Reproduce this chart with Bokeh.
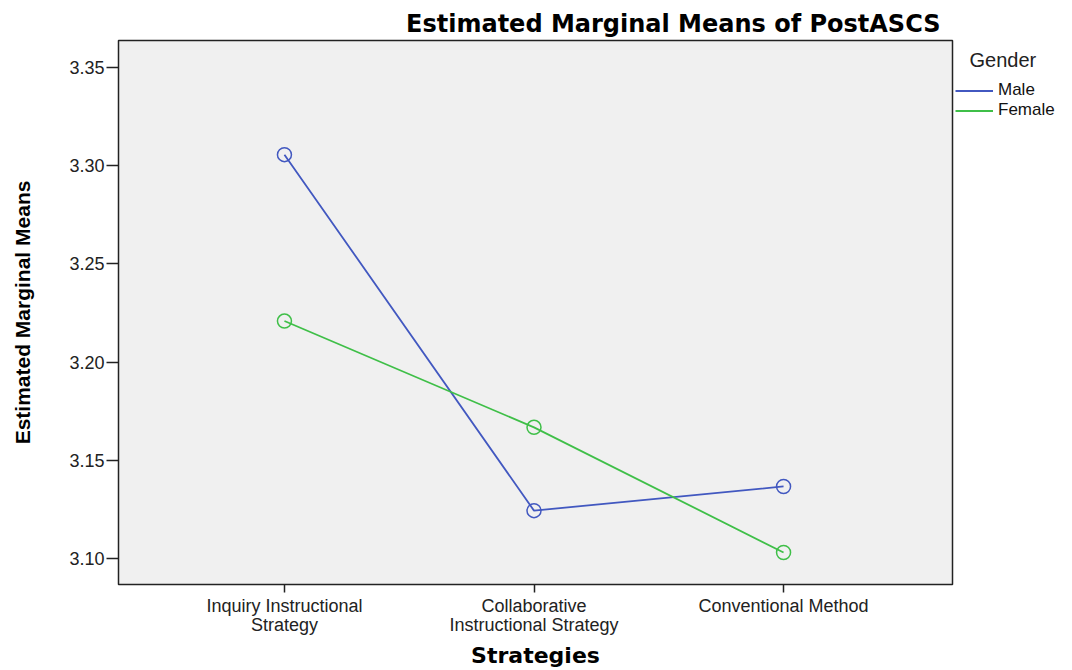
from bokeh.plotting import figure
from bokeh.layouts import row
from bokeh.models import Range1d, Legend, LegendItem, FixedTicker, Title, Label
from bokeh.embed import file_html
from bokeh.resources import INLINE

strategies = ["Inquiry Instructional\nStrategy", "Collaborative\nInstructional Strategy", "Conventional Method"]
x_pos = [0, 1, 2]
male = [3.3056, 3.1244, 3.1367]
female = [3.2209, 3.1668, 3.1031]
y_ticks = [3.10, 3.15, 3.20, 3.25, 3.30, 3.35]
series_names = ["Male", "Female"]
legend_title = "Gender"

BLUE = "#4258c0"
GREEN = "#3fbf48"

p = figure(width=954, height=670, output_backend="svg", toolbar_location=None,
           x_range=Range1d(-0.665, 2.677), y_range=Range1d(3.0868, 3.3637),
           min_border_left=118, min_border_right=2, min_border_top=40, min_border_bottom=86)
p.background_fill_color = "#f0f0f0"
p.border_fill_color = "white"
p.outline_line_color = "#222222"
p.outline_line_width = 1.5
p.grid.visible = False

p.line(x_pos, male, line_color=BLUE, line_width=1.8)
p.scatter(x_pos, male, marker="circle", size=14, fill_color=None, line_color=BLUE, line_width=1.5)
p.line(x_pos, female, line_color=GREEN, line_width=1.8)
p.scatter(x_pos, female, marker="circle", size=14, fill_color=None, line_color=GREEN, line_width=1.5)

p.title = Title(text="Estimated Marginal Means of PostASCS", align="right", offset=12,
                text_font="DejaVu Sans", text_font_size="24px", text_font_style="bold",
                text_color="black", standoff=6)

for ax in (p.xaxis[0], p.yaxis[0]):
    ax.axis_line_color = None
    ax.major_tick_line_color = "#222222"
    ax.major_tick_line_width = 1.5
    ax.major_tick_in = 0
    ax.minor_tick_line_color = None
    ax.major_label_text_font = "Liberation Sans"
    ax.major_label_text_font_size = "18px"
    ax.major_label_text_color = "#222222"
    ax.axis_label_text_font_style = "bold"
    ax.axis_label_text_color = "black"

p.xaxis.ticker = FixedTicker(ticks=x_pos)
p.xaxis.major_label_overrides = {i: s for i, s in zip(x_pos, strategies)}
p.xaxis.major_label_text_line_height = 0.95
p.xaxis.major_tick_out = 8
p.xaxis.axis_label = "Strategies"
p.xaxis.axis_label_text_font = "DejaVu Sans"
p.xaxis.axis_label_text_font_size = "22px"
p.xaxis.major_label_standoff = 3
p.xaxis.axis_label_standoff = 5

p.yaxis.ticker = FixedTicker(ticks=y_ticks)
p.yaxis.major_label_overrides = {t: f"{t:.2f}" for t in y_ticks}
p.yaxis.major_tick_out = 12
p.yaxis.axis_label = "Estimated Marginal Means"
p.yaxis.axis_label_text_font = "Liberation Sans"
p.yaxis.axis_label_text_font_size = "21px"
p.yaxis.major_label_standoff = 2
p.yaxis.axis_label_standoff = 32

# legend panel (frame in pixel units: 1 unit = 1 px)
q = figure(width=118, height=670, output_backend="svg", toolbar_location=None,
           x_range=Range1d(0, 117), y_range=Range1d(0, 544),
           x_axis_location=None, y_axis_location=None,
           min_border_left=1, min_border_right=0, min_border_top=40, min_border_bottom=86)
q.outline_line_color = None
q.background_fill_color = "white"
q.border_fill_color = "white"
q.grid.visible = False
q.add_layout(Label(x=14, y=525, text=legend_title, text_font="Liberation Sans",
                   text_font_size="20px", text_color="#222222", text_baseline="middle"))
rm = q.line([-20, -10], [-20, -20], line_color=BLUE, line_width=1.8)
rf = q.line([-20, -10], [-20, -20], line_color=GREEN, line_width=1.8)
legend = Legend(items=[LegendItem(label=series_names[0], renderers=[rm]),
                       LegendItem(label=series_names[1], renderers=[rf])],
                location=(0, 464),
                label_text_font="Liberation Sans", label_text_font_size="17px",
                label_text_color="#111111", label_standoff=5,
                glyph_width=38, glyph_height=19, label_height=19, spacing=0,
                background_fill_alpha=0, border_line_color=None,
                padding=0, margin=0)
q.add_layout(legend, "center")

layout = row(p, q, spacing=0)
open("out.html", "w").write(file_html(layout, INLINE))
